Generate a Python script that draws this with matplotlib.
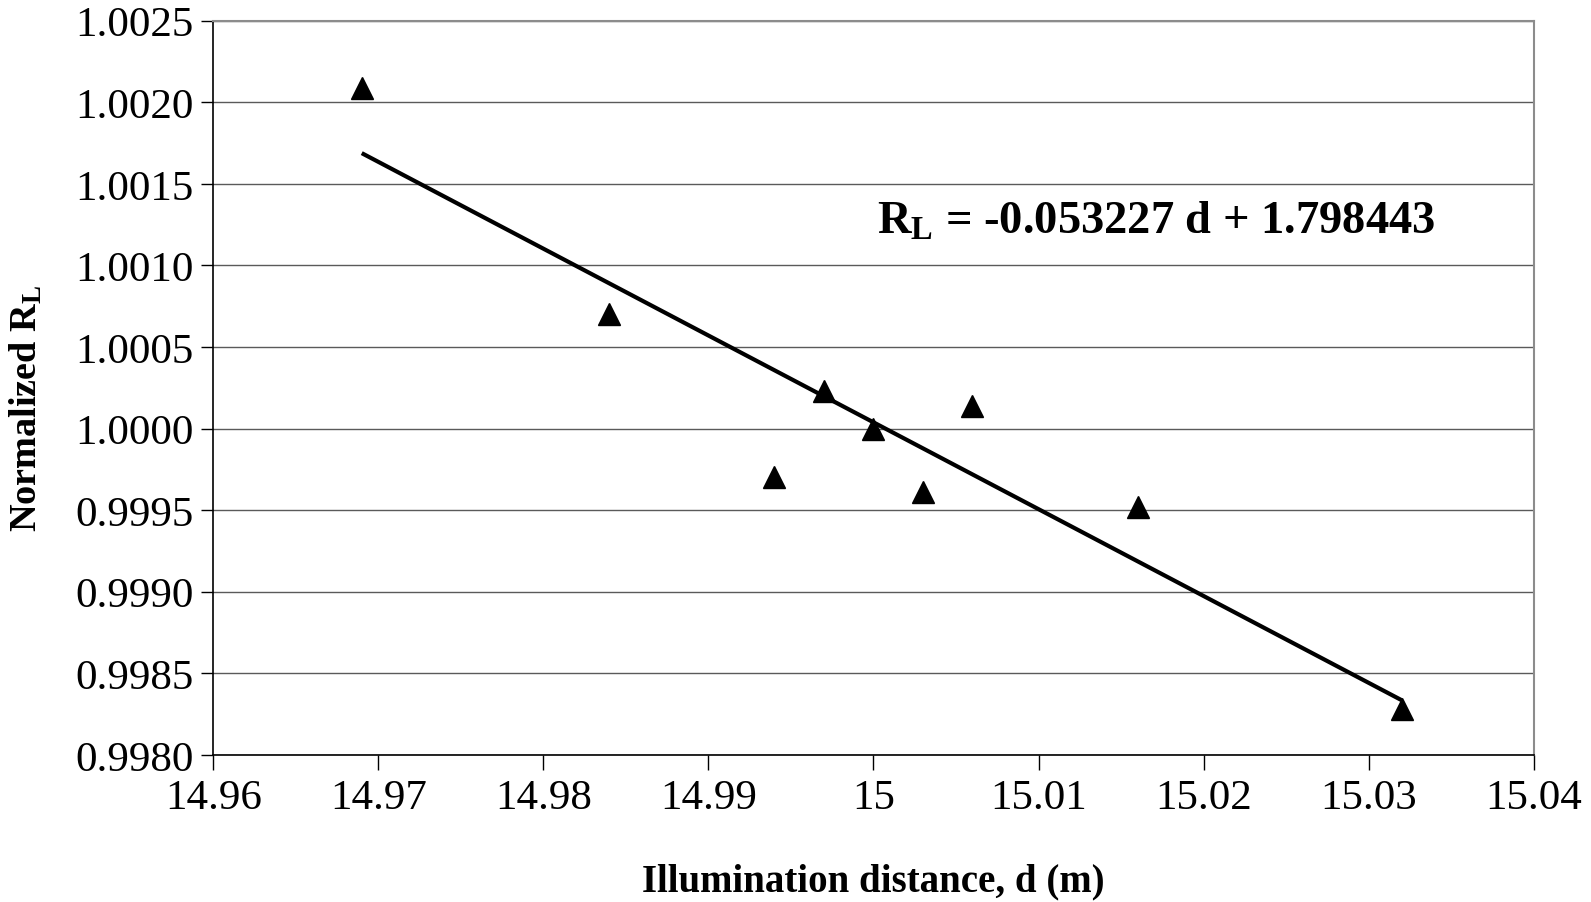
import numpy as np
import matplotlib
matplotlib.use("Agg")
import matplotlib.pyplot as plt
from matplotlib.ticker import FixedLocator, FormatStrFormatter

plt.rcParams['font.family'] = ['Liberation Serif', 'DejaVu Serif']
plt.rcParams['mathtext.fontset'] = 'custom'
plt.rcParams['mathtext.rm'] = 'Liberation Serif'
plt.rcParams['mathtext.bf'] = 'Liberation Serif:bold'
plt.rcParams['mathtext.it'] = 'Liberation Serif:italic'

# measured distances (m) and normalized R_L
distance = [14.969, 14.984, 14.994, 14.997, 15.000, 15.003, 15.006, 15.016, 15.032]
norm_rl = [1.00209, 1.00070, 0.99970, 1.00023, 1.00000, 0.99961, 1.00014, 0.99952, 0.99828]

# linear fit coefficients
slope = -0.053227
intercept = 1.798443

x_ticks = [14.96, 14.97, 14.98, 14.99, 15.00, 15.01, 15.02, 15.03, 15.04]
x_tick_labels = ['14.96', '14.97', '14.98', '14.99', '15', '15.01', '15.02', '15.03', '15.04']
y_ticks = [0.9980, 0.9985, 0.9990, 0.9995, 1.0000, 1.0005, 1.0010, 1.0015, 1.0020, 1.0025]

fig = plt.figure(figsize=(15.91, 9.03), dpi=100)
ax = fig.add_axes([0.134, 0.163, 0.830, 0.813])

ax.set_xlim(14.96, 15.04)
ax.set_ylim(0.9980, 1.0025)
ax.xaxis.set_major_locator(FixedLocator(x_ticks))
ax.set_xticklabels(x_tick_labels)
ax.yaxis.set_major_locator(FixedLocator(y_ticks))
ax.yaxis.set_major_formatter(FormatStrFormatter('%.4f'))

ax.grid(axis='y', color='#5a5a5a', linewidth=1.0)
ax.set_axisbelow(True)

for side in ('top', 'right'):
    ax.spines[side].set_color('#8c8c8c')
    ax.spines[side].set_linewidth(1.5)
for side in ('left', 'bottom'):
    ax.spines[side].set_color('black')
    ax.spines[side].set_linewidth(1.2)

ax.tick_params(axis='both', which='major', labelsize=31, direction='out',
               color='black', width=1.0)
ax.tick_params(axis='y', length=9, pad=5)
ax.tick_params(axis='x', length=11, pad=6)

# trend line over the measured range
d_fit = np.array([min(distance), max(distance)])
ax.plot(d_fit, slope * d_fit + intercept, color='black', linewidth=3.0,
        solid_capstyle='butt', zorder=3)

ax.plot(distance, norm_rl, linestyle='none', marker='^', markersize=16,
        color='black', zorder=4, clip_on=False)

ax.text(0.714, 0.726, r'$\mathbf{R_L}$ = -0.053227 d + 1.798443',
        transform=ax.transAxes, fontsize=33.5, fontweight='bold',
        ha='center', va='center')

ax.set_xlabel('Illumination distance, d (m)', fontsize=28, fontweight='bold',
              labelpad=33)
ax.set_ylabel(r'Normalized $\mathbf{R_L}$', fontsize=27.5, fontweight='bold')
ax.yaxis.set_label_coords(-0.1275, 0.474)

fig.savefig('out.png', dpi=100)
